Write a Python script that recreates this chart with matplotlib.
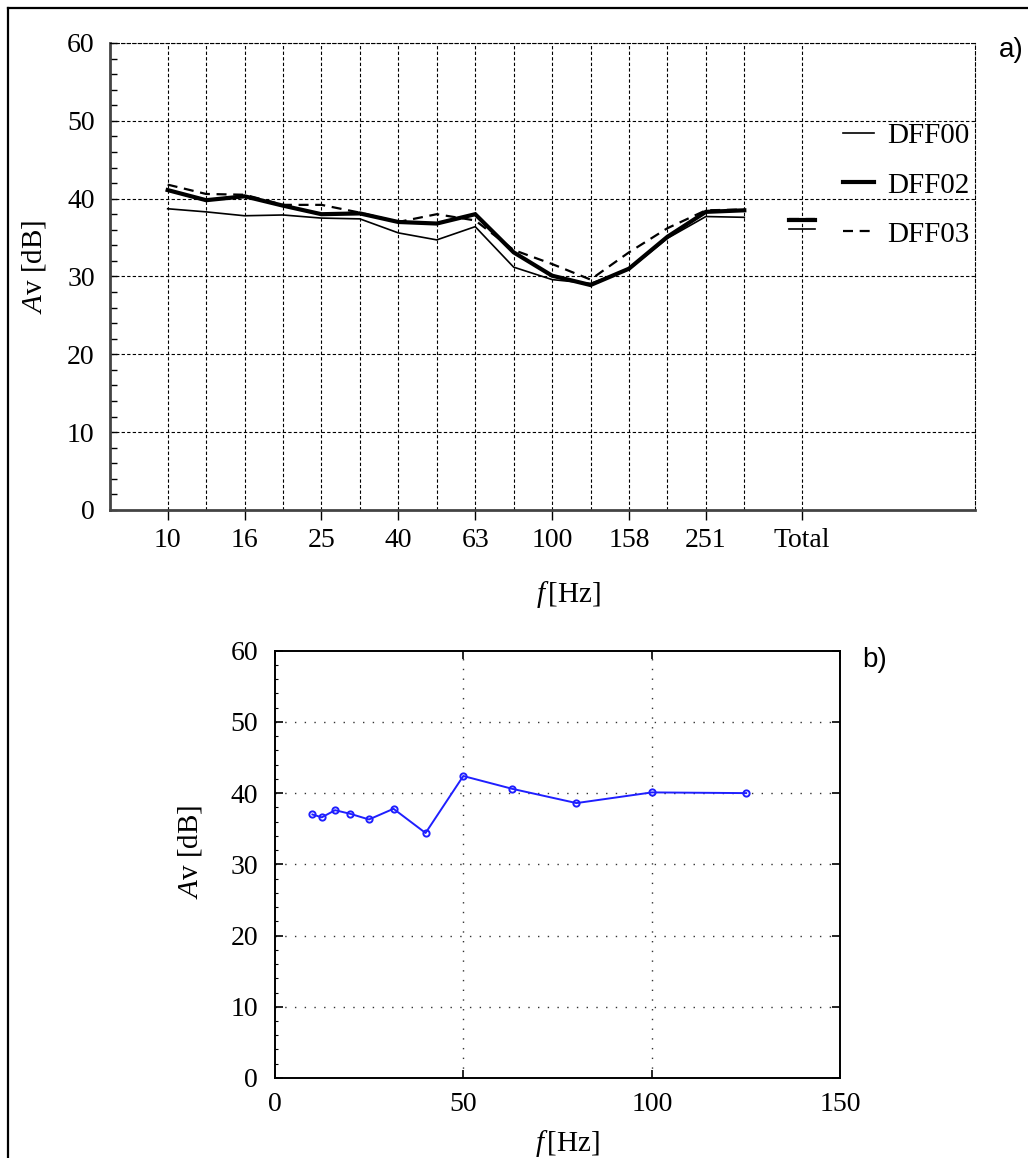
import matplotlib
matplotlib.use("Agg")
import matplotlib.pyplot as plt
from matplotlib.ticker import MultipleLocator
from matplotlib.lines import Line2D

# ---- data -------------------------------------------------------------
bands_hz = [10, 12.5, 16, 20, 25, 31.5, 40, 50, 63, 80, 100, 125, 158, 200, 251, 316]
band_tick_labels = ["10", "16", "25", "40", "63", "100", "158", "251"]
series_names = ["DFF00", "DFF02", "DFF03"]
dff00 = [38.7, 38.3, 37.8, 37.9, 37.5, 37.4, 35.6, 34.7, 36.4, 31.2, 29.6, 29.1, 30.9, 34.9, 37.7, 37.6]
dff02 = [41.1, 39.8, 40.3, 39.1, 38.0, 38.1, 37.0, 36.8, 38.0, 33.1, 30.1, 28.9, 31.0, 35.1, 38.3, 38.5]
dff03 = [41.8, 40.6, 40.5, 39.2, 39.2, 38.2, 37.0, 38.0, 37.2, 33.4, 31.6, 29.6, 33.1, 36.2, 38.5, 38.6]
totals = [36.1, 37.2, 37.4]

freq_b = [10, 12.5, 16, 20, 25, 31.5, 40, 50, 63, 80, 100, 125]
av_b = [37.0, 36.6, 37.6, 37.1, 36.3, 37.8, 34.4, 42.4, 40.6, 38.6, 40.1, 40.0]

# ---- style ------------------------------------------------------------
plt.rcParams["font.family"] = ["Liberation Serif", "DejaVu Serif"]
plt.rcParams["mathtext.fontset"] = "custom"
plt.rcParams["mathtext.rm"] = "Liberation Serif"
plt.rcParams["mathtext.it"] = "Liberation Serif:italic"
FS = 20

fig = plt.figure(figsize=(10.28, 11.58), dpi=100)

# outer frame (top and left edges)
fig.add_artist(Line2D([8 / 1028, 8 / 1028], [0, 1 - 8 / 1158], transform=fig.transFigure,
                      color="black", lw=1.6))
fig.add_artist(Line2D([8 / 1028, 1.0], [1 - 8 / 1158, 1 - 8 / 1158], transform=fig.transFigure,
                      color="black", lw=1.6))

# ---- panel a ----------------------------------------------------------
ax = fig.add_axes([0.107, 0.5596, 0.8414, 0.4033])
idx = list(range(len(bands_hz)))
total_pos = len(bands_hz) + 0.5

styles = [dict(color="black", lw=1.2, ls="-"),
          dict(color="black", lw=3.0, ls="-"),
          dict(color="black", lw=1.6, ls=(0, (4.5, 3)))]
for name, vals, st, tot in zip(series_names, [dff00, dff02, dff03], styles, totals):
    ax.plot(idx, vals, label=name, solid_joinstyle="miter", **st)
    ax.plot([total_pos - 0.35, total_pos + 0.35], [tot, tot], **st)

ax.set_xlim(-1.5, 21.0)
ax.set_ylim(0, 60)

# grid: every band plus the Total column
for x in idx + [total_pos]:
    ax.axvline(x, color="black", lw=0.8, ls=(0, (3, 2)), zorder=0)
for y in range(10, 70, 10):
    ax.axhline(y, color="black", lw=0.8, ls=(0, (3, 2)), zorder=0)

ax.set_xticks(list(range(0, 16, 2)) + [total_pos])
ax.set_xticklabels(band_tick_labels + ["Total"], fontsize=FS)
ax.tick_params(axis="x", direction="out", length=7, width=1, pad=6)
ax.yaxis.set_major_locator(MultipleLocator(10))
ax.yaxis.set_minor_locator(MultipleLocator(2))
ax.tick_params(axis="y", which="both", direction="in", length=5, width=1, pad=11, labelsize=FS)

for side in ["top", "right"]:
    ax.spines[side].set_linestyle((0, (3, 2)))
    ax.spines[side].set_linewidth(0.8)
for side in ["left", "bottom"]:
    ax.spines[side].set_color("#444444")
    ax.spines[side].set_linewidth(2.0)

ax.set_ylabel(r"$A$v [dB]", fontsize=FS + 1)
ax.yaxis.set_label_coords(-0.072, 0.52)
ax.set_xlabel(r"$f\,$[Hz]", fontsize=FS + 1)
ax.xaxis.set_label_coords(0.53, -0.147)

leg = ax.legend(loc="upper right", bbox_to_anchor=(1.01, 0.86), frameon=False,
                fontsize=FS + 1, handlelength=1.05, handletextpad=0.45, labelspacing=0.78,
                borderaxespad=0.1)

fig.text(1011 / 1028, 1 - 50 / 1158, "a)", family="Liberation Sans", fontsize=20,
         ha="center", va="center")

# ---- panel b ----------------------------------------------------------
bx = fig.add_axes([0.2672, 0.0691, 0.5504, 0.3690])
bx.plot(freq_b, av_b, color="#1f1fff", lw=1.4, marker="o", ms=4.5,
        markerfacecolor="none", markeredgewidth=1.4)
bx.set_xlim(0, 150)
bx.set_ylim(0, 60)
bx.xaxis.set_major_locator(MultipleLocator(50))
bx.yaxis.set_major_locator(MultipleLocator(10))
bx.yaxis.set_minor_locator(MultipleLocator(2))
for x in [50, 100]:
    bx.axvline(x, color="#333333", lw=1.0, ls=(0, (1, 6)), zorder=0)
for y in range(10, 60, 10):
    bx.axhline(y, color="#333333", lw=1.0, ls=(0, (1, 6)), zorder=0)
bx.tick_params(axis="both", which="major", direction="in", length=6, width=1.2,
               labelsize=FS, right=True, top=True)
bx.tick_params(axis="y", which="minor", direction="in", length=2.5, width=0.8, left=True)
bx.tick_params(axis="y", pad=12)
bx.tick_params(axis="x", pad=10)
for side in bx.spines.values():
    side.set_linewidth(1.4)

bx.set_ylabel(r"$A$v [dB]", fontsize=FS + 1)
bx.yaxis.set_label_coords(-0.125, 0.53)
bx.set_xlabel(r"$f\,$[Hz]", fontsize=FS + 1)
bx.xaxis.set_label_coords(0.518, -0.118)

fig.text(875 / 1028, 1 - 660 / 1158, "b)", family="Liberation Sans", fontsize=20,
         ha="center", va="center")

fig.savefig("out.png", dpi=100)
